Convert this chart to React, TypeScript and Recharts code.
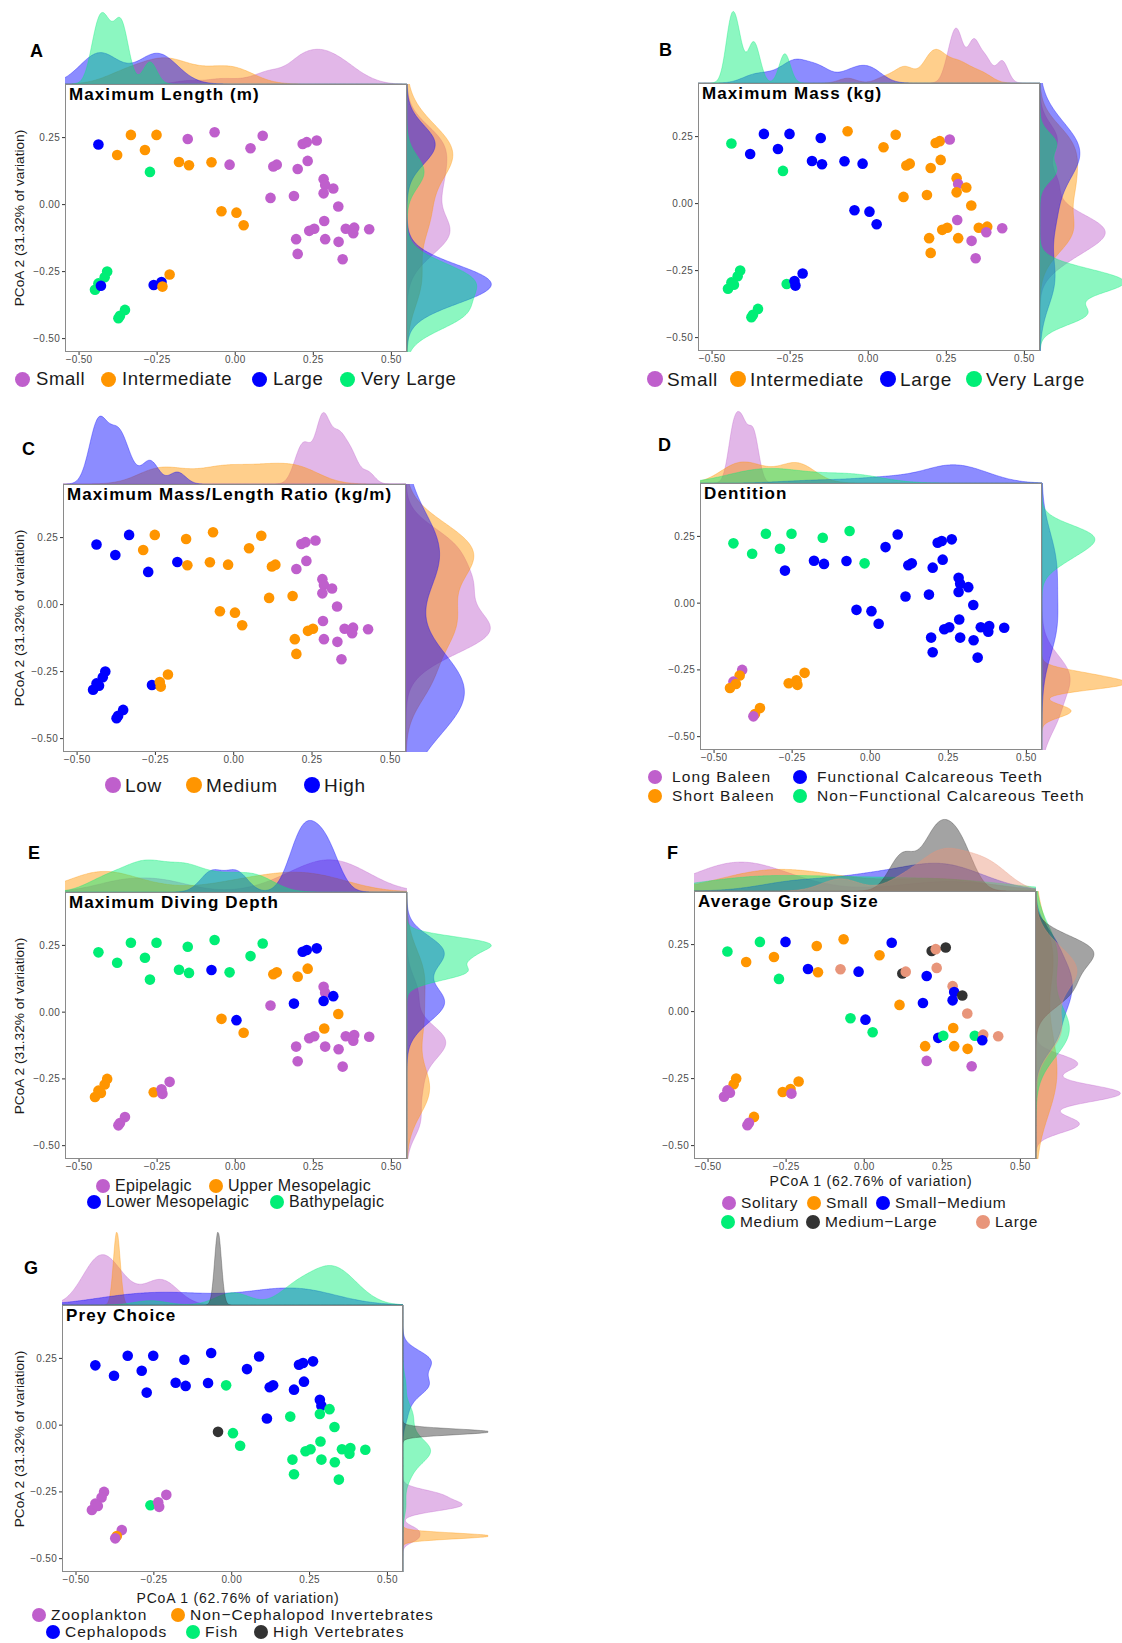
import React from 'react';
import { ScatterChart, Scatter, XAxis, YAxis, Cell, AreaChart, Area, ComposedChart } from 'recharts';

// PCoA coordinates of the species (same ordination in every panel)
const pcoa1 = [
  -0.438, -0.334, -0.252, -0.378, -0.289, -0.273, -0.18, -0.148, -0.152, -0.076, -0.066, -0.018, 0.049, 0.088, 0.122, 0.133, 0.2, 0.232, 0.216, 0.229, 0.261,
  -0.044, 0.004, 0.027, 0.113, 0.188, 0.283, 0.288, 0.283, 0.314, 0.33, 0.285, 0.237, 0.253, 0.195, 0.288, 0.2, 0.331, 0.344, 0.354, 0.381, 0.378, 0.429,
  -0.41, -0.418, -0.438, -0.449, -0.43, -0.353, -0.369, -0.374, -0.261, -0.236, -0.21, -0.233,
];
const pcoa2 = [
  0.224, 0.26, 0.26, 0.185, 0.204, 0.122, 0.159, 0.147, 0.245, 0.158, 0.27, 0.149, 0.21, 0.257, 0.142, 0.149, 0.133, 0.163, 0.226, 0.233, 0.239,
  -0.025, -0.03, -0.077, 0.025, 0.032, 0.095, 0.073, 0.042, 0.06, -0.007, -0.061, -0.098, -0.09, -0.129, -0.129, -0.184, -0.139, -0.204, -0.09, -0.086, -0.107, -0.092,
  -0.25, -0.271, -0.294, -0.318, -0.303, -0.393, -0.415, -0.424, -0.3, -0.289, -0.261, -0.306,
];

// trait classes per species (index into the group list of each panel)
const lengthGroups = ['Small', 'Intermediate', 'Large', 'Very Large'];
const lengthClass = [
  2, 1, 1, 1, 1, 3, 1, 1, 0, 1, 0, 0, 0, 0, 0, 0, 0, 0, 0, 0, 0,
  1, 1, 1, 0, 0, 0, 0, 0, 0, 0, 0, 0, 0, 0, 0, 0, 0, 0, 0, 0, 0, 0,
  3, 3, 3, 3, 2, 3, 3, 3, 2, 2, 1, 1,
];
const massGroups = ['Small', 'Intermediate', 'Large', 'Very Large'];
const massClass = [
  3, 2, 2, 2, 2, 3, 2, 2, 2, 2, 1, 2, 1, 1, 1, 1, 1, 1, 1, 1, 0,
  2, 2, 2, 1, 1, 1, 0, 1, 1, 1, 0, 1, 1, 1, 1, 1, 0, 0, 1, 1, 0, 0,
  3, 3, 3, 3, 3, 3, 3, 3, 3, 2, 2, 2,
];
const ratioGroups = ['Low', 'Medium', 'High'];
const ratioClass = [
  2, 2, 1, 2, 1, 2, 2, 1, 1, 1, 1, 1, 1, 1, 1, 1, 0, 0, 0, 0, 0,
  1, 1, 1, 1, 1, 0, 0, 0, 0, 0, 0, 1, 1, 1, 0, 1, 0, 0, 0, 0, 0, 0,
  2, 2, 2, 2, 2, 2, 2, 2, 2, 1, 1, 1,
];
const dentitionGroups = ['Long Baleen', 'Short Baleen', 'Functional Calcareous Teeth', 'Non\u2212Functional Calcareous Teeth'];
const dentitionClass = [
  3, 3, 3, 3, 3, 2, 2, 2, 3, 2, 3, 3, 2, 2, 2, 2, 2, 2, 2, 2, 2,
  2, 2, 2, 2, 2, 2, 2, 2, 2, 2, 2, 2, 2, 2, 2, 2, 2, 2, 2, 2, 2, 2,
  0, 1, 0, 1, 1, 1, 1, 0, 1, 1, 1, 1,
];
const depthGroups = ['Epipelagic', 'Upper Mesopelagic', 'Lower Mesopelagic', 'Bathypelagic'];
const depthClass = [
  3, 3, 3, 3, 3, 3, 3, 3, 3, 2, 3, 3, 3, 3, 1, 1, 1, 1, 2, 2, 2,
  1, 2, 1, 0, 2, 0, 0, 2, 2, 1, 1, 0, 0, 0, 0, 0, 0, 0, 0, 0, 0, 0,
  1, 1, 1, 1, 1, 0, 0, 0, 1, 0, 0, 0,
];
const groupSizeGroups = ['Solitary', 'Small', 'Small\u2212Medium', 'Medium', 'Medium\u2212Large', 'Large'];
const groupSizeClass = [
  3, 3, 2, 1, 1, 3, 2, 1, 1, 5, 1, 2, 1, 2, 4, 5, 2, 5, 4, 5, 4,
  3, 2, 3, 1, 2, 5, 2, 2, 4, 5, 1, 2, 3, 1, 1, 0, 1, 0, 3, 5, 2, 5,
  1, 1, 0, 0, 0, 1, 0, 0, 1, 1, 1, 0,
];
const preyGroups = ['Zooplankton', 'Non\u2212Cephalopod Invertebrates', 'Cephalopods', 'Fish', 'High Vertebrates'];
const preyClass = [
  2, 2, 2, 2, 2, 2, 2, 2, 2, 2, 2, 3, 2, 2, 2, 2, 2, 2, 2, 2, 2,
  4, 3, 3, 2, 3, 2, 2, 3, 3, 3, 3, 3, 3, 3, 3, 3, 3, 3, 3, 3, 3, 3,
  0, 0, 0, 0, 0, 0, 1, 0, 3, 0, 0, 0,
];

const xTicks = [-0.5, -0.25, 0, 0.25, 0.5];
const yTicks = [-0.5, -0.25, 0, 0.25];

const PURPLE = '#BF5FCC';
const ORANGE = '#FF9500';
const BLUE = '#0000FF';
const GREEN = '#00EE76';
const DARK = '#333333';
const SALMON = '#E8957A';

const X_DOMAIN: [number, number] = [-0.545, 0.55];
const Y_DOMAIN: [number, number] = [-0.55, 0.45];
const FONT = '"Liberation Sans", Arial, Helvetica, sans-serif';
const TOP_H = 73;
const RIGHT_W = 86;
const Y_AX = 40;
const X_AX = 16;

// marginal densities (Gaussian kernel, bw.nrd0 * adjust) of each group
function quantile(sorted: number[], p: number) {
  const h = (sorted.length - 1) * p;
  const lo = Math.floor(h);
  const hi = Math.ceil(h);
  return sorted[lo] + (h - lo) * (sorted[hi] - sorted[lo]);
}
function bwNrd0(v: number[]) {
  const n = v.length;
  const mean = v.reduce((a, b) => a + b, 0) / n;
  const sd = Math.sqrt(v.reduce((a, b) => a + (b - mean) ** 2, 0) / (n - 1));
  const s = [...v].sort((a, b) => a - b);
  const iqr = quantile(s, 0.75) - quantile(s, 0.25);
  let lo = Math.min(sd, iqr / 1.34);
  if (!lo) lo = sd || Math.abs(v[0]) || 1;
  return 0.9 * lo * Math.pow(n, -0.2);
}
function densityRows(values: number[], cls: number[], nGroups: number, domain: [number, number], adjust: number) {
  const grid: number[] = [];
  for (let k = 0; k <= 300; k++) grid.push(domain[0] + ((domain[1] - domain[0]) * k) / 300);
  const members: number[][] = [];
  for (let g = 0; g < nGroups; g++) members.push(values.filter((_, i) => cls[i] === g));
  const curves = members.map((m) => {
    if (m.length < 2) return grid.map((t) => Math.exp(-0.5 * ((t - m[0]) / 0.011) ** 2));
    const bw = bwNrd0(m) * adjust;
    return grid.map((t) => m.reduce((a, x) => a + Math.exp(-0.5 * ((t - x) / bw) ** 2), 0) / (m.length * bw * Math.sqrt(2 * Math.PI)));
  });
  let peak = 0;
  curves.forEach((c, g) => { if (members[g].length >= 2) peak = Math.max(peak, ...c); });
  const hasSpike = members.some((m) => m.length < 2);
  const max = hasSpike ? peak * 1.45 : peak * 1.02;
  const rows = grid.map((t, k) => {
    const r: Record<string, number> = { v: t };
    curves.forEach((c, g) => { r['g' + g] = members[g].length < 2 ? c[k] * max : c[k]; });
    return r;
  });
  return { rows, max };
}

const fmt = (v: number) => v.toFixed(2).replace('-', '\u2212');

type LegendRow = { y: number; items: [number, number][] };
type PanelCfg = {
  letter: string; lx: number; ly: number;
  title: string;
  l: number; t: number; r: number; b: number;
  groups: string[]; cls: number[]; colors: string[];
  adjTop: number; adjRight: number;
  yTitle: boolean; xTitle: boolean; xtx?: number; xty?: number;
  legend: LegendRow[]; lgFont: number; lgSpace: number; dotR: number; gap: number;
};

const panels: PanelCfg[] = [
  { letter: 'A', lx: 30, ly: 51, title: 'Maximum Length (m)', l: 65, t: 84, r: 407, b: 352,
    groups: lengthGroups, cls: lengthClass, colors: [PURPLE, ORANGE, BLUE, GREEN], adjTop: 0.85, adjRight: 1, yTitle: true, xTitle: false,
    legend: [{ y: 379, items: [[0, 22], [1, 108], [2, 259], [3, 347]] }], lgFont: 18.5, lgSpace: 0.6, dotR: 7.5, gap: 14 },
  { letter: 'B', lx: 659, ly: 50, title: 'Maximum Mass (kg)', l: 698, t: 83, r: 1040, b: 351,
    groups: massGroups, cls: massClass, colors: [PURPLE, ORANGE, BLUE, GREEN], adjTop: 0.55, adjRight: 1, yTitle: false, xTitle: false,
    legend: [{ y: 379, items: [[0, 655], [1, 738], [2, 888], [3, 974]] }], lgFont: 19, lgSpace: 0.7, dotR: 8, gap: 12 },
  { letter: 'C', lx: 22, ly: 449, title: 'Maximum Mass/Length Ratio (kg/m)', l: 63, t: 484, r: 406, b: 752,
    groups: ratioGroups, cls: ratioClass, colors: [PURPLE, ORANGE, BLUE], adjTop: 0.75, adjRight: 1, yTitle: true, xTitle: false,
    legend: [{ y: 785, items: [[0, 113], [1, 194], [2, 312]] }], lgFont: 19, lgSpace: 0.7, dotR: 8, gap: 12 },
  { letter: 'D', lx: 658, ly: 445, title: 'Dentition', l: 700, t: 483, r: 1042, b: 750,
    groups: dentitionGroups, cls: dentitionClass, colors: [PURPLE, ORANGE, BLUE, GREEN], adjTop: 1, adjRight: 1.6, yTitle: false, xTitle: false,
    legend: [{ y: 777, items: [[0, 655], [2, 800]] }, { y: 796, items: [[1, 655], [3, 800]] }], lgFont: 15.5, lgSpace: 1.1, dotR: 7, gap: 17 },
  { letter: 'E', lx: 28, ly: 853, title: 'Maximum Diving Depth', l: 65, t: 892, r: 407, b: 1159,
    groups: depthGroups, cls: depthClass, colors: [PURPLE, ORANGE, BLUE, GREEN], adjTop: 0.65, adjRight: 0.9, yTitle: true, xTitle: false,
    legend: [{ y: 1186, items: [[0, 103], [1, 216]] }, { y: 1202, items: [[2, 94], [3, 277]] }], lgFont: 16, lgSpace: 0.3, dotR: 7, gap: 12 },
  { letter: 'F', lx: 667, ly: 853, title: 'Average Group Size', l: 694, t: 891, r: 1036, b: 1159,
    groups: groupSizeGroups, cls: groupSizeClass, colors: [PURPLE, ORANGE, BLUE, GREEN, DARK, SALMON], adjTop: 1, adjRight: 1, yTitle: false, xTitle: true, xtx: 871, xty: 1181,
    legend: [{ y: 1203, items: [[0, 729], [1, 814], [2, 883]] }, { y: 1222, items: [[3, 728], [4, 813], [5, 983]] }], lgFont: 15.5, lgSpace: 0.7, dotR: 7, gap: 12 },
  { letter: 'G', lx: 24, ly: 1268, title: 'Prey Choice', l: 62, t: 1305, r: 403, b: 1572,
    groups: preyGroups, cls: preyClass, colors: [PURPLE, ORANGE, BLUE, GREEN, DARK], adjTop: 1, adjRight: 1, yTitle: true, xTitle: true, xtx: 238, xty: 1598,
    legend: [{ y: 1615, items: [[0, 39], [1, 178]] }, { y: 1632, items: [[2, 53], [3, 193], [4, 261]] }], lgFont: 15.5, lgSpace: 1, dotR: 7, gap: 12 },
];

const abs = (left: number, top: number, extra: React.CSSProperties = {}): React.CSSProperties => ({ position: 'absolute', left, top, ...extra });

const Dot = (props: any) => <circle cx={props.cx} cy={props.cy} r={5.3} fill={props.fill} />;

function Panel({ p }: { p: PanelCfg }) {
  const W = p.r - p.l;
  const H = p.b - p.t;
  const pts = pcoa1.map((x, i) => ({ x, y: pcoa2[i], g: p.cls[i] }));
  const top = densityRows(pcoa1, p.cls, p.groups.length, X_DOMAIN, p.adjTop);
  const right = densityRows(pcoa2, p.cls, p.groups.length, Y_DOMAIN, p.adjRight);
  const areas = p.groups.map((name, g) => (
    <Area key={name} dataKey={'g' + g} name={name} type="monotone" baseValue={0} fill={p.colors[g]} fillOpacity={0.45}
      stroke={p.colors[g]} strokeOpacity={0.55} strokeWidth={0.6} dot={false} activeDot={false} isAnimationActive={false} />
  ));
  return (
    <>
      <div style={abs(p.lx, p.ly - 12, { fontSize: 18, fontWeight: 'bold', fontFamily: FONT, lineHeight: '24px' })}>{p.letter}</div>
      <div style={abs(p.l, p.t - TOP_H)}>
        <AreaChart width={W} height={TOP_H} data={top.rows} margin={{ top: 0, right: 0, bottom: 0, left: 0 }}>
          <XAxis type="number" dataKey="v" domain={X_DOMAIN} hide allowDataOverflow />
          <YAxis type="number" domain={[0, top.max]} hide allowDataOverflow />
          {areas}
        </AreaChart>
      </div>
      <div style={abs(p.r, p.t)}>
        <ComposedChart layout="vertical" width={RIGHT_W} height={H} data={right.rows} margin={{ top: 0, right: 0, bottom: 0, left: 0 }}>
          <XAxis type="number" domain={[0, right.max]} hide allowDataOverflow />
          <YAxis type="number" dataKey="v" domain={Y_DOMAIN} hide allowDataOverflow reversed />
          {areas}
        </ComposedChart>
      </div>
      <div style={abs(p.l - Y_AX, p.t)}>
        <ScatterChart width={W + Y_AX} height={H + X_AX} margin={{ top: 0, right: 0, bottom: 0, left: 0 }}>
          <XAxis type="number" dataKey="x" domain={X_DOMAIN} ticks={xTicks} interval={0} tickFormatter={fmt} height={X_AX}
            allowDataOverflow axisLine={false} tickSize={3} tickMargin={1} stroke="#333"
            tick={{ fontSize: 10, fill: '#4d4d4d', fontFamily: FONT, letterSpacing: 0.3 }} />
          <YAxis type="number" dataKey="y" domain={Y_DOMAIN} ticks={yTicks} interval={0} tickFormatter={fmt} width={Y_AX}
            allowDataOverflow axisLine={false} tickSize={3} tickMargin={2} stroke="#333"
            tick={{ fontSize: 10, fill: '#4d4d4d', fontFamily: FONT, letterSpacing: 0.3 }} />
          <Scatter data={pts} isAnimationActive={false} shape={<Dot />}>
            {pts.map((pt, i) => <Cell key={i} fill={p.colors[pt.g]} />)}
          </Scatter>
        </ScatterChart>
      </div>
      <div style={abs(p.l, p.t, { width: W, height: H, boxSizing: 'border-box', border: '1.5px solid #8a8a8a', pointerEvents: 'none' })} />
      <div style={abs(p.l + 4, p.t + 1, { fontSize: 17, fontWeight: 'bold', fontFamily: FONT, letterSpacing: 1.1, lineHeight: '20px', whiteSpace: 'nowrap' })}>{p.title}</div>
      {p.yTitle && (
        <div style={abs(19, (p.t + p.b) / 2, { transform: 'translate(-50%, -50%) rotate(-90deg)', fontSize: 13.7, fontFamily: FONT, color: '#1a1a1a', whiteSpace: 'nowrap' })}>
          PCoA 2 (31.32% of variation)
        </div>
      )}
      {p.xTitle && (
        <div style={abs(p.xtx!, p.xty!, { transform: 'translate(-50%, -50%)', fontSize: 14, letterSpacing: 0.8, fontFamily: FONT, color: '#1a1a1a', whiteSpace: 'nowrap' })}>
          PCoA 1 (62.76% of variation)
        </div>
      )}
      {p.legend.map((row, ri) => row.items.map(([g, x]) => (
        <React.Fragment key={ri + '-' + g}>
          <div style={abs(x - p.dotR, row.y - p.dotR, { width: p.dotR * 2, height: p.dotR * 2, borderRadius: '50%', background: p.colors[g] })} />
          <div style={abs(x + p.gap, row.y, { transform: 'translateY(-50%)', fontSize: p.lgFont, letterSpacing: p.lgSpace, fontFamily: FONT, color: '#1a1a1a', whiteSpace: 'nowrap', lineHeight: 1 })}>
            {p.groups[g]}
          </div>
        </React.Fragment>
      )))}
    </>
  );
}

export default function App() {
  return (
    <div style={{ position: 'absolute', left: 0, top: 0, width: 1122, height: 1643, background: '#fff', overflow: 'hidden' }}>
      {panels.map((p) => <Panel key={p.letter} p={p} />)}
    </div>
  );
}
